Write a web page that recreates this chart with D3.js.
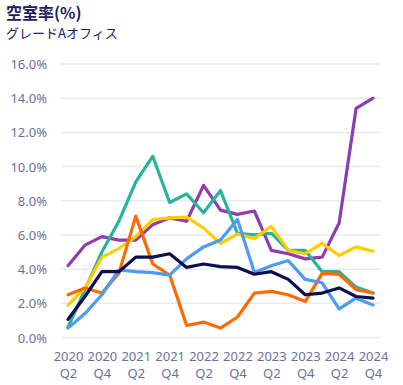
<!DOCTYPE html>
<html>
<head>
<meta charset="utf-8">
<script src="https://cdn.jsdelivr.net/npm/d3@7"></script>
<style>
  body { margin: 0; background: #fff; font-family: "Noto Sans CJK JP", "Noto Sans", sans-serif; }
  .tick text { fill: #6b7296; font-size: 13px; font-family: "Noto Sans", sans-serif; }
  .line { fill: none; stroke-width: 3.2; stroke-linejoin: round; stroke-linecap: round; }
</style>
</head>
<body>
<div id="chart"></div>
<script>
// quarters, 2020 Q2 .. 2024 Q4
var quarters = ["2020 Q2","2020 Q3","2020 Q4","2021 Q1","2021 Q2","2021 Q3","2021 Q4","2022 Q1","2022 Q2","2022 Q3",
                "2022 Q4","2023 Q1","2023 Q2","2023 Q3","2023 Q4","2024 Q1","2024 Q2","2024 Q3","2024 Q4"];
var yTicks = [0, 2, 4, 6, 8, 10, 12, 14, 16];

// series values (%)
var purple = [4.2, 5.4, 5.9, 5.7, 5.7, 6.6, 7.0, 6.8, 8.9, 7.45, 7.2, 7.4, 5.1, 4.9, 4.6, 4.7, 6.7, 13.4, 14.0];
var teal   = [0.6, 2.8, 5.0, 6.8, 9.1, 10.6, 7.9, 8.4, 7.3, 8.6, 6.1, 6.0, 6.1, 5.1, 5.1, 3.85, 3.85, 2.95, 2.6];
var yellow = [1.9, 2.9, 4.7, 5.2, 5.9, 6.9, 7.0, 7.05, 6.4, 5.5, 6.05, 5.8, 6.5, 5.1, 4.9, 5.5, 4.8, 5.3, 5.05];
var orange = [2.5, 2.9, 2.6, 3.75, 7.1, 4.3, 3.65, 0.7, 0.9, 0.55, 1.2, 2.6, 2.7, 2.5, 2.1, 3.75, 3.7, 2.8, 2.6];
var blue   = [0.55, 1.4, 2.5, 3.95, 3.85, 3.8, 3.65, 4.6, 5.3, 5.7, 6.9, 3.8, 4.2, 4.5, 3.4, 3.2, 1.67, 2.3, 1.9];
var navy   = [1.06, 2.4, 3.85, 3.85, 4.7, 4.7, 4.9, 4.1, 4.3, 4.15, 4.1, 3.7, 3.85, 3.4, 2.5, 2.6, 2.9, 2.4, 2.3];

var series = [
  {values: purple, color: "#8e3cb0"},
  {values: teal,   color: "#27b29b"},
  {values: yellow, color: "#ffcc00"},
  {values: orange, color: "#ff6a00"},
  {values: blue,   color: "#4c9bf5"},
  {values: navy,   color: "#0b0f4f"}
];

var W = 403, H = 385;
var margin = {top: 64, right: 30, bottom: 47.5, left: 61};

var svg = d3.select("#chart").append("svg")
  .attr("width", W).attr("height", H);

// title
svg.append("text").attr("x", 6).attr("y", 19)
  .style("font-size", "16px").style("font-weight", "bold").style("fill", "#1b2060")
  .text("空室率(%)");
svg.append("text").attr("x", 6).attr("y", 38)
  .style("font-size", "13px").style("fill", "#1b2060")
  .text("グレードAオフィス");

var x = d3.scaleLinear().domain([0, quarters.length - 1]).range([68, 373]);
var y = d3.scaleLinear().domain([0, 16]).range([H - margin.bottom, margin.top]);

// grid lines
svg.append("g").selectAll("line").data(yTicks).enter().append("line")
  .attr("x1", 61).attr("x2", 381)
  .attr("y1", function(d) { return y(d); })
  .attr("y2", function(d) { return y(d); })
  .attr("stroke", "#e9ebf2").attr("stroke-width", 1.5);

// y axis
var yAxis = svg.append("g")
  .attr("transform", "translate(47,0)")
  .call(d3.axisLeft(y).tickValues(yTicks).tickSize(0).tickPadding(0)
        .tickFormat(function(d) { return d.toFixed(1) + "%"; }));
yAxis.select(".domain").remove();
yAxis.selectAll("text").attr("dy", "0.35em");

// x axis, every other quarter, label split into two lines
var xAxis = svg.append("g")
  .attr("transform", "translate(0," + (H - margin.bottom) + ")")
  .call(d3.axisBottom(x).tickValues(d3.range(0, quarters.length, 2)).tickSize(0).tickFormat(""));
xAxis.select(".domain").remove();
xAxis.selectAll(".tick").each(function(i) {
  var parts = quarters[i].split(" ");
  var g = d3.select(this);
  g.select("text").remove();
  g.append("text").attr("y", 23.5).attr("text-anchor", "middle").text(parts[0]);
  g.append("text").attr("y", 40.5).attr("text-anchor", "middle").text(parts[1]);
});

var line = d3.line()
  .x(function(d, i) { return x(i); })
  .y(function(d) { return y(d); });

svg.selectAll(".line").data(series).enter().append("path")
  .attr("class", "line")
  .attr("stroke", function(d) { return d.color; })
  .attr("d", function(d) { return line(d.values); });
</script>
</body>
</html>
